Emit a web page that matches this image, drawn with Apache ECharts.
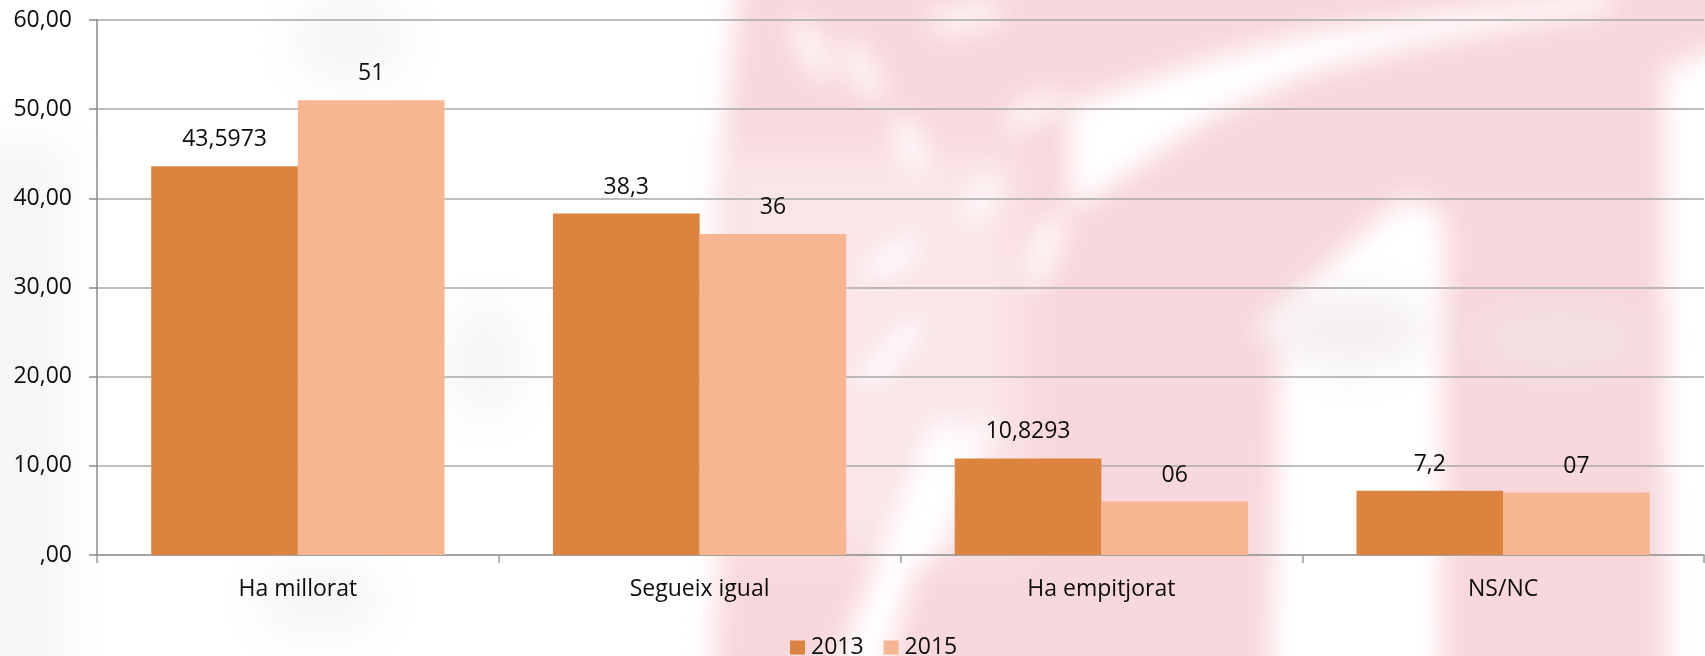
<!DOCTYPE html>
<html>
<head>
<meta charset="utf-8">
<title>Ha millorat / Segueix igual / Ha empitjorat / NS/NC</title>
<script src="https://cdn.jsdelivr.net/npm/echarts@6/dist/echarts.min.js"></script>
<style>
  html, body { margin: 0; padding: 0; background: #ffffff; }
  #stage { position: relative; width: 1705px; height: 656px; overflow: hidden; }
  #backdrop { position: absolute; left: 0; top: 0; }
  #chart { position: absolute; left: 0; top: 0; width: 1705px; height: 656px; }
</style>
</head>
<body>
<div id="stage">
  <!-- faded emblem behind the plot -->
  <svg id="backdrop" width="1705" height="656" viewBox="0 0 1705 656">
    <defs>
      <filter id="soft" x="-30%" y="-30%" width="160%" height="160%">
        <feGaussianBlur stdDeviation="13"/>
      </filter>
      <filter id="softer" x="-40%" y="-40%" width="180%" height="180%">
        <feGaussianBlur stdDeviation="20"/>
      </filter>
    </defs>
    <g filter="url(#softer)" fill="#e6e6e6" opacity="0.35">
      <rect x="-30" y="140" width="100" height="560"/>
      <ellipse cx="350" cy="40" rx="60" ry="45"/>
      <ellipse cx="485" cy="360" rx="40" ry="60"/>
      <ellipse cx="320" cy="600" rx="65" ry="40"/>
    </g>
    <g filter="url(#soft)" fill="#f8d8dc">
      <polygon points="740,-30 1735,-30 1735,686 712,686 728,420 718,200"/>
    </g>
    <!-- the left part of the emblem is paler and patchier -->
    <g filter="url(#softer)" fill="#ffffff" opacity="0.35">
      <rect x="720" y="150" width="300" height="400"/>
    </g>
    <g filter="url(#soft)" fill="#ffffff">
      <!-- diagonal light streaks, upper right -->
      <polygon points="1070,105 1213,58 1313,32 1413,18 1520,4 1610,-8 1610,10 1513,26 1413,46 1313,72 1213,116 1070,212"/>
      <polygon points="1250,335 1300,335 1440,205 1400,200"/>
      <!-- light vertical bands -->
      <polygon points="1270,686 1440,686 1445,215 1410,215 1280,330"/>
      <polygon points="1664,70 1735,40 1735,686 1666,686"/>
      <!-- streaks in the left part of the emblem -->
      <polygon points="828,686 880,686 962,420 932,420"/>
      <polygon points="905,560 935,560 995,420 972,420"/>
      <polygon points="852,385 880,385 930,320 905,320"/>
      <g opacity="0.85">
        <ellipse cx="812" cy="50" rx="12" ry="36" transform="rotate(-25 812 50)"/>
        <ellipse cx="862" cy="70" rx="12" ry="36" transform="rotate(-30 862 70)"/>
        <ellipse cx="910" cy="145" rx="14" ry="32" transform="rotate(-20 910 145)"/>
        <ellipse cx="965" cy="18" rx="40" ry="12" transform="rotate(-10 965 18)"/>
        <ellipse cx="893" cy="258" rx="36" ry="14" transform="rotate(-35 893 258)"/>
        <ellipse cx="1032" cy="112" rx="34" ry="12" transform="rotate(-30 1032 112)"/>
        <ellipse cx="1045" cy="250" rx="14" ry="42" transform="rotate(20 1045 250)"/>
        <ellipse cx="980" cy="200" rx="12" ry="30" transform="rotate(30 980 200)"/>
      </g>
    </g>
    <g filter="url(#softer)" fill="#efe6e7" opacity="0.6">
      <ellipse cx="1350" cy="330" rx="80" ry="40"/>
      <ellipse cx="1560" cy="340" rx="90" ry="35"/>
    </g>
  </svg>
  <div id="chart"></div>
</div>
<script>
// Categories and survey values (%)
const categories = ['Ha millorat', 'Segueix igual', 'Ha empitjorat', 'NS/NC'];
const seriesNames = ['2013', '2015'];
const values2013 = [43.5973, 38.3, 10.8293, 7.2];
const values2015 = [51, 36, 6, 7];

// Value axis ticks and their printed labels
const yTicks = [0, 10, 20, 30, 40, 50, 60];
const yTickLabels = [',00', '10,00', '20,00', '30,00', '40,00', '50,00', '60,00'];

const colors = ['#db833f', '#f8b592'];
const font = "'Open Sans', 'DejaVu Sans', sans-serif";
const textColor = '#0d0d0d';

const chart = echarts.init(document.getElementById('chart'), null, { renderer: 'canvas' });

const option = {
  backgroundColor: 'transparent',
  animation: false,
  textStyle: { fontFamily: font },
  grid: { left: 97, right: 1, top: 20, bottom: 101, containLabel: false },
  legend: {
    data: seriesNames,
    left: 785,
    top: 631,
    itemWidth: 15,
    itemHeight: 14,
    itemGap: 20,
    icon: 'rect',
    textStyle: { fontFamily: font, fontSize: 23, color: textColor, padding: [0, 0, 0, 1] }
  },
  xAxis: {
    type: 'category',
    data: categories,
    boundaryGap: true,
    axisLine: { show: true, lineStyle: { color: '#9a9a9a', width: 1.5 } },
    axisTick: { show: true, length: 8, lineStyle: { color: '#9a9a9a', width: 1.5 } },
    axisLabel: { fontFamily: font, fontSize: 23, color: textColor, margin: 23 },
    splitLine: { show: false }
  },
  yAxis: {
    type: 'value',
    min: yTicks[0],
    max: yTicks[yTicks.length - 1],
    interval: 10,
    axisLine: { show: true, lineStyle: { color: '#8a8a8a', width: 1.5 } },
    axisTick: { show: true, length: 8, lineStyle: { color: '#8a8a8a', width: 1.5 } },
    axisLabel: {
      fontFamily: font, fontSize: 23, color: textColor, margin: 25,
      formatter: function (v) {
        const i = yTicks.indexOf(v);
        return i >= 0 ? yTickLabels[i] : '';
      }
    },
    splitLine: { show: true, lineStyle: { color: '#a8a8a8', width: 1.5 } }
  },
  series: [
    {
      name: seriesNames[0],
      type: 'bar',
      data: values2013,
      barGap: '0%',
      barCategoryGap: '27%',
      itemStyle: { color: colors[0] },
      label: {
        show: true, position: 'top', distance: 15,
        fontFamily: font, fontSize: 23, color: textColor,
        formatter: function (p) { return String(p.value).replace('.', ','); }
      }
    },
    {
      name: seriesNames[1],
      type: 'bar',
      data: values2015,
      barGap: '0%',
      barCategoryGap: '27%',
      itemStyle: { color: colors[1] },
      label: {
        show: true, position: 'top', distance: 15,
        fontFamily: font, fontSize: 23, color: textColor,
        formatter: function (p) { return String(p.value).padStart(2, '0'); }
      }
    }
  ]
};

chart.setOption(option);
</script>
</body>
</html>
